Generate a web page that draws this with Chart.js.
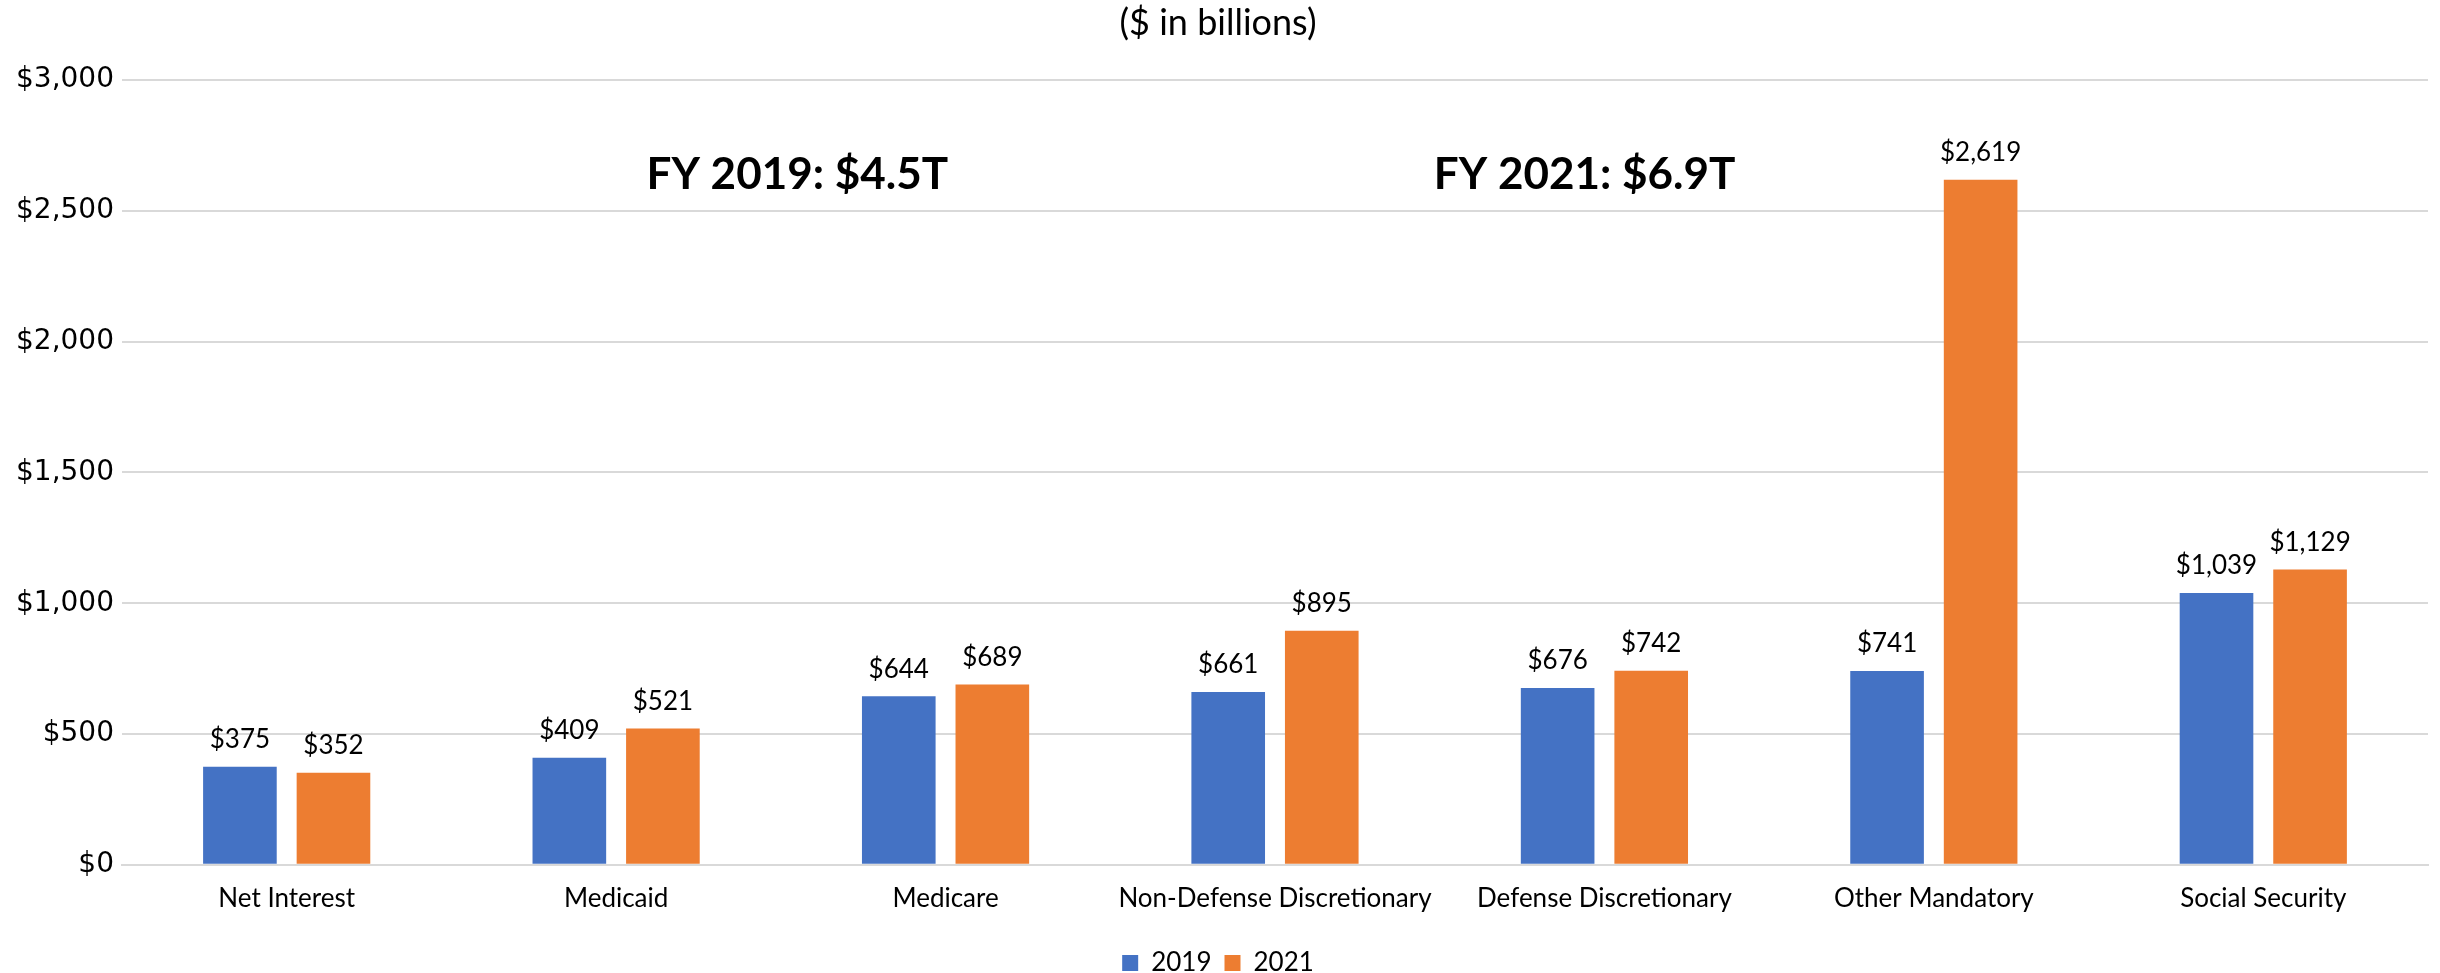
<!DOCTYPE html>
<html>
<head>
<meta charset="utf-8">
<script src="https://cdn.jsdelivr.net/npm/chart.js@4/dist/chart.umd.min.js"></script>
<style>
  html, body { margin: 0; padding: 0; background: #fff; }
  #wrap { width: 2440px; height: 973px; }
</style>
</head>
<body>
<div id="wrap"><canvas id="chart"></canvas></div>
<script>
const categories = ['Net Interest', 'Medicaid', 'Medicare', 'Non-Defense Discretionary', 'Defense Discretionary', 'Other Mandatory', 'Social Security'];
const spending2019 = [375, 409, 644, 661, 676, 741, 1039];
const spending2021 = [352, 521, 689, 895, 742, 2619, 1129];
const yTicks = [0, 500, 1000, 1500, 2000, 2500, 3000];
const totals = [
  { text: 'FY 2019: $4.5T', at: 1.55, value: 2640 },
  { text: 'FY 2021: $6.9T', at: 3.94, value: 2640 },
];

const BLUE = '#4472C4';
const ORANGE = '#ED7D31';
const dollars = v => '$' + v.toLocaleString('en-US');

// value labels over each bar
const barLabels = {
  id: 'barLabels',
  afterDatasetsDraw(chart) {
    const ctx = chart.ctx;
    ctx.save();
    ctx.font = '26px Lato';
    ctx.fillStyle = '#000';
    ctx.textAlign = 'center';
    ctx.textBaseline = 'bottom';
    chart.data.datasets.forEach((ds, i) => {
      chart.getDatasetMeta(i).data.forEach((bar, j) => {
        ctx.fillText(dollars(ds.data[j]), bar.x, bar.y - 14);
      });
    });
    ctx.restore();
  }
};

// the two big "FY total" notes
const totalNotes = {
  id: 'totalNotes',
  afterDraw(chart) {
    const ctx = chart.ctx;
    const { x, y } = chart.scales;
    ctx.save();
    ctx.font = 'bold 44px Lato';
    ctx.fillStyle = '#000';
    ctx.textAlign = 'center';
    ctx.textBaseline = 'middle';
    totals.forEach(t => ctx.fillText(t.text, x.getPixelForValue(t.at), y.getPixelForValue(t.value)));
    ctx.restore();
  }
};

// nudge the legend a little lower, closer to the bottom edge
const legendDown = {
  id: 'legendDown',
  afterLayout(chart) {
    chart.legend.top += 13;
    chart.legend.bottom += 13;
  }
};

new Chart(document.getElementById('chart'), {
  type: 'bar',
  data: {
    labels: categories,
    datasets: [
      { label: '2019', data: spending2019, backgroundColor: BLUE },
      { label: '2021', data: spending2021, backgroundColor: ORANGE },
    ],
  },
  options: {
    responsive: true,
    maintainAspectRatio: false,
    animation: false,
    categoryPercentage: 0.568,
    barPercentage: 0.787,
    layout: { padding: { left: 8, right: 12, top: 0, bottom: 0 } },
    plugins: {
      title: {
        display: true,
        text: '($ in billions)',
        color: '#000',
        font: { family: 'Lato', size: 36, weight: 'normal' },
        padding: { top: 2, bottom: 35 },
      },
      legend: {
        position: 'bottom',
        labels: {
          color: '#000',
          font: { family: 'Lato', size: 26 },
          boxWidth: 16,
          boxHeight: 16,
          padding: 13,
        },
      },
      tooltip: { enabled: false },
    },
    scales: {
      x: {
        grid: { display: false },
        border: { display: true, color: '#d9d9d9', width: 2 },
        ticks: { color: '#000', font: { family: 'Lato', size: 26 }, padding: 10, maxRotation: 0 },
      },
      y: {
        min: 0,
        max: 3000,
        afterBuildTicks: axis => { axis.ticks = yTicks.map(v => ({ value: v })); },
        grid: { color: '#d9d9d9', lineWidth: 2, drawTicks: false },
        border: { display: false },
        ticks: { color: '#000', font: { family: 'DejaVu Sans', size: 28 }, padding: 8, callback: v => dollars(v) },
      },
    },
  },
  plugins: [barLabels, totalNotes, legendDown],
});
</script>
</body>
</html>
